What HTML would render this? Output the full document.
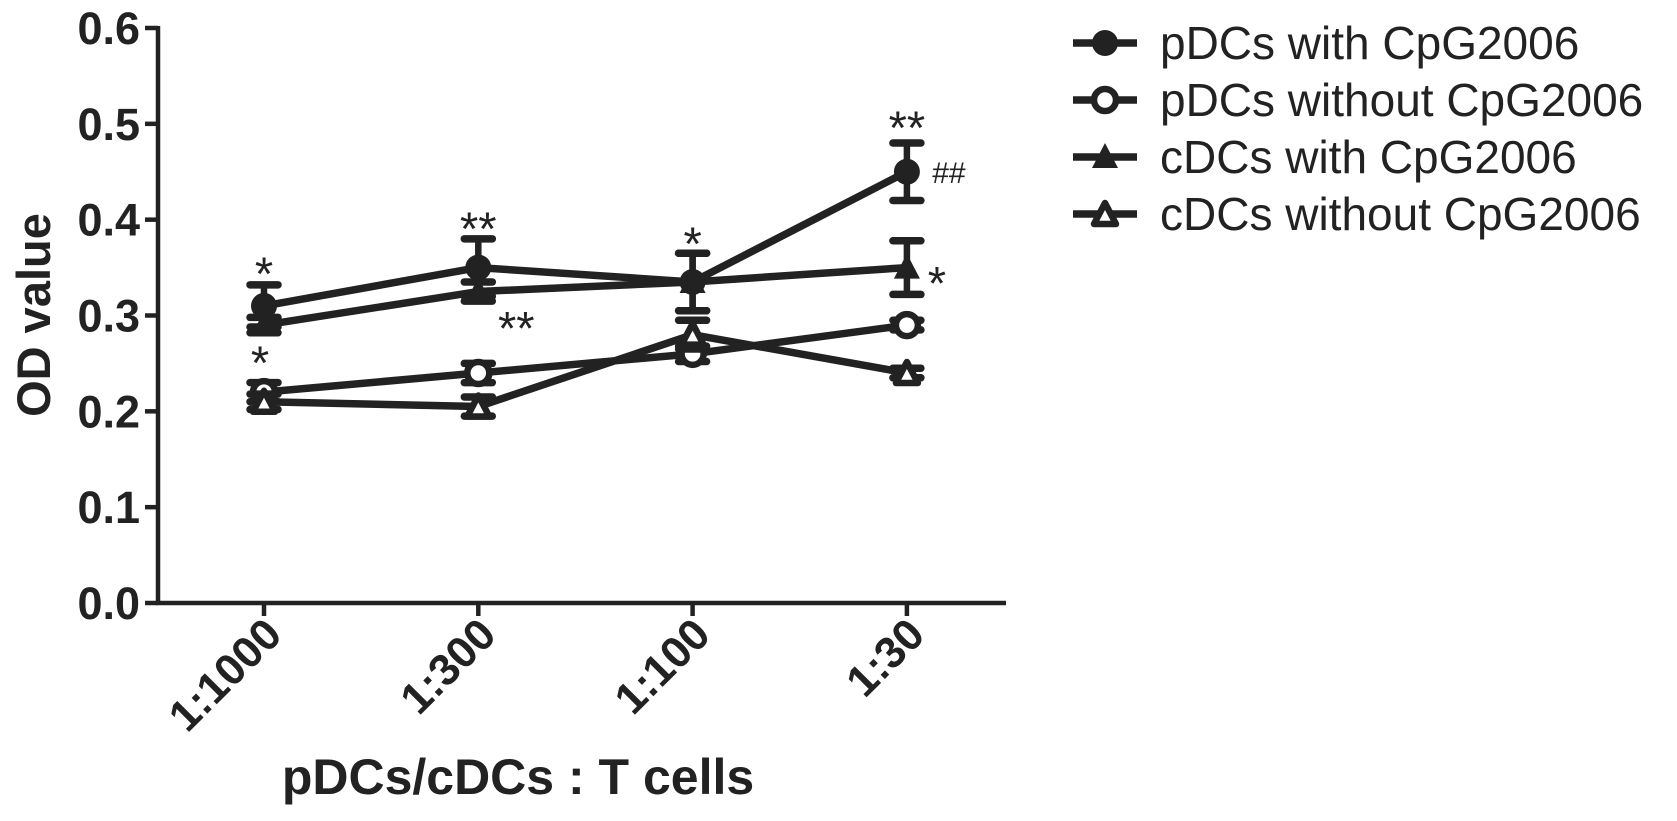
<!DOCTYPE html>
<html><head><meta charset="utf-8"><style>
body{margin:0;background:#fff;}
svg{display:block;font-family:"Liberation Sans",Arial,sans-serif;}
</style></head><body>
<svg id="chart" width="1677" height="821" viewBox="0 0 1677 821" xmlns="http://www.w3.org/2000/svg">
<g id="axes"></g><g id="series"></g><g id="legend"></g>
</svg>
<script>
const categories=["1:1000","1:300","1:100","1:30"];
const yTicks=[0.0,0.1,0.2,0.3,0.4,0.5,0.6];
const seriesNames=["pDCs with CpG2006","pDCs without CpG2006","cDCs with CpG2006","cDCs without CpG2006"];
const pdcWith=[0.31,0.35,0.335,0.45];
const pdcWithErr=[0.022,0.03,0.03,0.03];
const pdcWithout=[0.22,0.24,0.26,0.29];
const pdcWithoutErr=[0.01,0.01,0.008,0.005];
const cdcWith=[0.29,0.325,0.335,0.35];
const cdcWithErr=[0.008,0.01,0.03,0.028];
const cdcWithout=[0.21,0.205,0.28,0.24];
const cdcWithoutErr=[0.008,0.01,0.015,0.005];
const annLabels=["*","*","**","**","*","**","##","*"];
const annCats=[0,0,1,1,2,3,3,3];
const annValues=[0.355,0.262,0.402,0.298,0.386,0.507,0.45,0.345];
const NS="http://www.w3.org/2000/svg";
const x0=158,yBase=603,yTop=28;
const xs=i=>264+i*214.3;
const ys=v=>yBase-(v/0.6)*(yBase-yTop);
function mk(t,a,p){const e=document.createElementNS(NS,t);for(const k in a)e.setAttribute(k,a[k]);p.appendChild(e);return e;}
const axes=document.getElementById('axes');
const ya=mk('line',{x1:x0,y1:yTop-2,x2:x0,y2:yBase+2,stroke:'#222','stroke-width':4.5},axes);


const xa=mk('line',{x1:x0-2,y1:yBase,x2:1006,y2:yBase,stroke:'#222','stroke-width':4.5},axes);


yTicks.forEach(v=>{
 mk('line',{x1:x0-13,y1:ys(v),x2:x0,y2:ys(v),stroke:'#222','stroke-width':4.5},axes);
 const t=mk('text',{x:x0-18,y:ys(v)+16,'text-anchor':'end','font-size':45,'font-weight':'bold',fill:'#222'},axes);
 t.textContent=v.toFixed(1);
 
 
});
categories.forEach((c,i)=>{
 mk('line',{x1:xs(i),y1:yBase,x2:xs(i),y2:yBase+13,stroke:'#222','stroke-width':4.5},axes);
 const ax=xs(i)+20,ay=yBase+34;
 const t=mk('text',{x:ax,y:ay,'text-anchor':'end','font-size':44,'font-weight':'bold',fill:'#222',transform:`rotate(-45 ${ax} ${ay})`},axes);
 t.textContent=c;
 
 
});
const yt=mk('text',{x:50,y:315,'text-anchor':'middle','font-size':47,'font-weight':'bold',fill:'#222',transform:'rotate(-90 50 315)'},axes);
yt.textContent='OD value';


const xt=mk('text',{x:518,y:794,'text-anchor':'middle','font-size':50,'font-weight':'bold',fill:'#222'},axes);
xt.textContent='pDCs/cDCs : T cells';



function marker(g,type,cx,cy){
 if(type==0) mk('circle',{cx,cy,r:13,fill:'#222'},g);
 else if(type==1) mk('circle',{cx,cy,r:11,fill:'#fff',stroke:'#222','stroke-width':6.5},g);
 else if(type==2) mk('polygon',{points:`${cx},${cy-14} ${cx+13},${cy+11} ${cx-13},${cy+11}`,fill:'#222'},g);
 else mk('polygon',{points:`${cx},${cy-11} ${cx+11},${cy+10} ${cx-11},${cy+10}`,fill:'#fff',stroke:'#222','stroke-width':6.5,'stroke-linejoin':'round'},g);
}
const allS=[[pdcWith,pdcWithErr],[pdcWithout,pdcWithoutErr],[cdcWith,cdcWithErr],[cdcWithout,cdcWithoutErr]];
const sg=document.getElementById('series');
allS.forEach(([vals,errs],si)=>{
 const g=mk('g',{},sg);
 
 
 vals.forEach((v,i)=>{
  const e=errs[i];
  mk('line',{x1:xs(i),y1:ys(v+e),x2:xs(i),y2:ys(v-e),stroke:'#222','stroke-width':6.5},g);
  [v+e,v-e].forEach(w=>mk('line',{x1:xs(i)-14,y1:ys(w),x2:xs(i)+14,y2:ys(w),stroke:'#222','stroke-width':7.5,'stroke-linecap':'round'},g));
 });
 const pl=mk('polyline',{points:vals.map((v,i)=>xs(i)+','+ys(v)).join(' '),fill:'none',stroke:'#222','stroke-width':7.5,'stroke-linejoin':'round'},g);
 
 
 vals.forEach((v,i)=>marker(g,si,xs(i),ys(v)));
});
const annDx=[0,-4,0,38,0,0,42,30];
annLabels.forEach((s,k)=>{
 const isHash=s=='##';
 const fs=isHash?30:47;
 const t=mk('text',{x:xs(annCats[k])+annDx[k],y:ys(annValues[k])+(isHash?11:27),'text-anchor':'middle','font-size':fs,fill:'#222'},sg);
 t.textContent=s;
 
 
});
const lg=document.getElementById('legend');
seriesNames.forEach((n,i)=>{
 const y=43+i*57;
 const g=mk('g',{},lg);
 
 
 mk('line',{x1:1073,y1:y,x2:1137,y2:y,stroke:'#222','stroke-width':7.5},g);
 marker(g,i,1105,y);
 const t=mk('text',{x:1160,y:y+16,'font-size':46,fill:'#222'},g);
 t.textContent=n;
});
</script>
</body></html>
